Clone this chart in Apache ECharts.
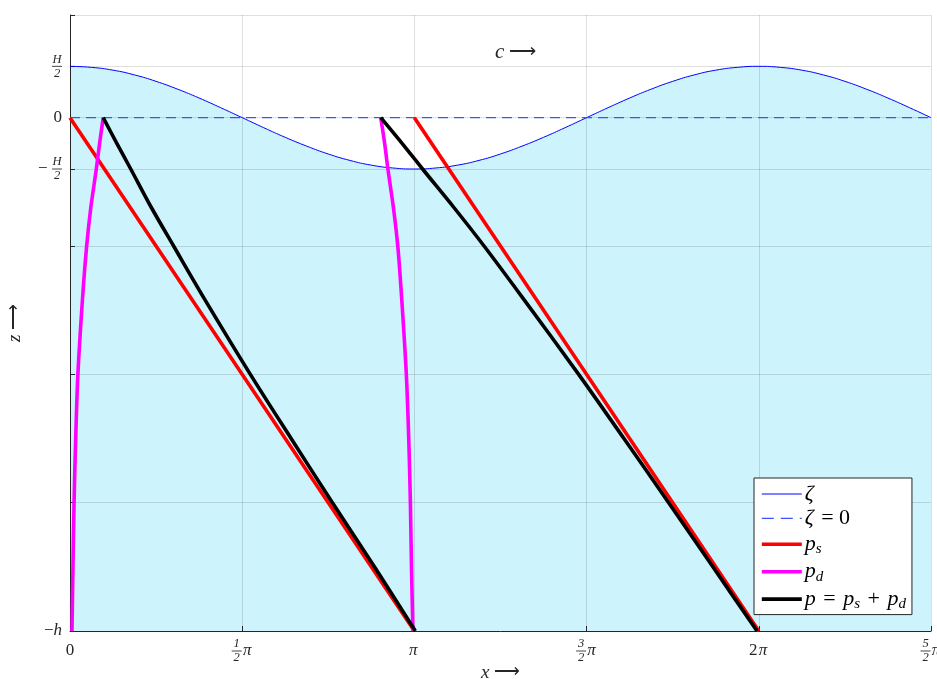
<!DOCTYPE html>
<html><head><meta charset="utf-8">
<script src="https://cdn.jsdelivr.net/npm/echarts@6/dist/echarts.min.js"></script>
<style>html,body{margin:0;padding:0;background:#fff}#c{width:937px;height:679px}</style>
</head><body><div id="c"></div>
<script>
const PI = Math.PI;
// axis ticks
const xTickValues = [0, PI / 2, PI, 3 * PI / 2, 2 * PI, 5 * PI / 2];
const xTickLabels = ['0', '1/2π', 'π', '3/2π', '2π', '5/2π'];
const yTickValues = [-4, -3, -2, -1, -0.4, 0, 0.4, 0.8];
const yTickLabels = ['−h', '', '', '', '−H/2', '0', 'H/2', ''];

// surface elevation ζ
const waveX = [0, 0.196, 0.393, 0.589, 0.785, 0.982, 1.178, 1.374, 1.571, 1.767, 1.963, 2.160, 2.356, 2.553, 2.749, 2.945, 3.142, 3.338, 3.534, 3.731, 3.927, 4.123, 4.320, 4.516, 4.712, 4.909, 5.105, 5.301, 5.498, 5.694, 5.890, 6.087, 6.283, 6.480, 6.676, 6.872, 7.069, 7.265, 7.461, 7.658, 7.854];
const waveZ = [0.4, 0.392, 0.370, 0.333, 0.283, 0.222, 0.153, 0.078, 0, -0.078, -0.153, -0.222, -0.283, -0.333, -0.370, -0.392, -0.4, -0.392, -0.370, -0.333, -0.283, -0.222, -0.153, -0.078, 0, 0.078, 0.153, 0.222, 0.283, 0.333, 0.370, 0.392, 0.4, 0.392, 0.370, 0.333, 0.283, 0.222, 0.153, 0.078, 0];

// still water level
const levelX = [0, 7.854];
const levelZ = [0, 0];

// hydrostatic pressure p_s
const ps1X = [0, 3.1416];
const ps1Z = [0, -4];
const ps2X = [3.1416, 6.2832];
const ps2Z = [0, -4];

// dynamic pressure p_d
const profZ = [0, -0.2, -0.4, -0.7, -1.0, -1.4, -2.0, -2.5, -3.0, -3.5, -4.0];
const pd1X = [0.303, 0.27, 0.24, 0.19, 0.152, 0.115, 0.072, 0.052, 0.037, 0.027, 0.018];
const pd2X = [2.835, 2.87, 2.90, 2.95, 2.99, 3.025, 3.068, 3.09, 3.105, 3.115, 3.128];

// total pressure p
const p1X = [0.303, 0.427, 0.554, 0.742, 0.945, 1.218, 1.645, 2.017, 2.394, 2.777, 3.150];
const p2X = [2.835, 3.029, 3.216, 3.502, 3.777, 4.126, 4.640, 5.053, 5.461, 5.864, 6.267];

const zip = (xs, zs) => xs.map((x, i) => [x, zs[i]]);

const SERIF = 'Liberation Serif';
const TXT = '#262626';

function xLabel(s) {
  const m = s.match(/^(\d)\/(\d)(.*)$/);
  if (!m) return s.replace(/π/, '{p|π}').replace(/^([^{]+)/, '{t|$1}');
  return '{n|' + m[1] + '}{sp| }\n{bar| }{p|' + m[3] + '}\n{n|' + m[2] + '}{sp| }';
}
function yLabel(s) {
  const m = s.match(/^(−?)(\w)\/(\d)$/);
  if (!m) {
    if (s.startsWith('−')) return '{t|−}{it|' + s.slice(1) + '}';
    return '{t|' + s + '}';
  }
  if (m[1]) return '{e| }{n|' + m[2] + '}\n{m|−}{bar| }\n{e| }{n|' + m[3] + '}';
  return '{n|' + m[2] + '}\n{bar| }\n{n|' + m[3] + '}';
}
const fracRich = {
  t: { fontFamily: SERIF, fontSize: 17, color: TXT },
  it: { fontFamily: SERIF, fontSize: 17, fontStyle: 'italic', color: TXT },
  n: { fontFamily: SERIF, fontSize: 12.5, fontStyle: 'italic', color: TXT, width: 10, align: 'center', lineHeight: 10 },
  bar: { fontSize: 1, width: 10, height: 1, lineHeight: 4, backgroundColor: '#444' },
  sp: { fontSize: 1, width: 11, lineHeight: 10 },
  p: { fontFamily: SERIF, fontSize: 17, fontStyle: 'italic', color: TXT, width: 11, align: 'left', lineHeight: 4 },
  e: { fontSize: 1, width: 14, lineHeight: 10 },
  m: { fontFamily: SERIF, fontSize: 17, color: TXT, width: 14, align: 'left', lineHeight: 4 }
};

const legendRich = {
  i: { fontFamily: SERIF, fontSize: 22, fontStyle: 'italic', color: '#000', lineHeight: 24 },
  r: { fontFamily: SERIF, fontSize: 22, color: '#000', lineHeight: 24, padding: [0, 2, 0, 2] },
  s: { fontFamily: SERIF, fontSize: 15, fontStyle: 'italic', color: '#000', lineHeight: 14, padding: [10, 0, 0, 0] }
};
const legendText = {
  'ζ': '{i|ζ}',
  'ζ = 0': '{i|ζ}{r| = 0}',
  'p_s': '{i|p}{s|s}',
  'p_d': '{i|p}{s|d}',
  'p = p_s + p_d': '{i|p}{r| = }{i|p}{s|s}{r| + }{i|p}{s|d}'
};

const gridLine = { show: true, lineStyle: { color: 'rgba(38,38,38,0.15)', width: 1 } };

const thick = (name, color, data) => ({
  name, type: 'line', data, smooth: 0.3, showSymbol: false, symbol: 'none', z: 5,
  lineStyle: { color, width: 3.6 }, itemStyle: { color }
});

const legendItem = (name, width, type) => ({
  name, lineStyle: { width, type }, itemStyle: { opacity: 0 }
});

const chart = echarts.init(document.getElementById('c'), null, { renderer: 'canvas' });
chart.setOption({
  animation: false,
  backgroundColor: '#fff',
  grid: { left: 70, right: 6, top: 15, bottom: 48, containLabel: false, outerBoundsMode: 'none' },
  xAxis: {
    type: 'value', min: 0, max: 5 * PI / 2, z: 3,
    axisLine: { show: true, onZero: false, lineStyle: { color: TXT, width: 1 } },
    axisTick: { show: true, inside: true, length: 5, customValues: xTickValues, lineStyle: { color: TXT } },
    axisLabel: {
      customValues: xTickValues, margin: 20, verticalAlign: 'middle', rich: fracRich,
      formatter: v => xLabel(xTickLabels[Math.round(v / (PI / 2))])
    },
    splitLine: gridLine,
    name: '{i|x} ⟶', nameLocation: 'middle', nameGap: 32, nameMoveOverlap: false,
    nameTextStyle: { color: TXT, fontSize: 18, fontFamily: SERIF, rich: { i: { fontFamily: SERIF, fontSize: 19, fontStyle: 'italic', color: TXT } } }
  },
  yAxis: {
    type: 'value', min: -4, max: 0.8, z: 3,
    axisLine: { show: true, onZero: false, lineStyle: { color: TXT, width: 1 } },
    axisTick: { show: true, inside: true, length: 5, customValues: yTickValues, lineStyle: { color: TXT } },
    axisLabel: {
      customValues: yTickValues, margin: 8, rich: fracRich,
      formatter: v => {
        const i = yTickValues.findIndex(t => Math.abs(t - v) < 1e-6);
        return i < 0 || !yTickLabels[i] ? '' : yLabel(yTickLabels[i]);
      }
    },
    splitLine: gridLine,
    name: '{i|z} ⟶', nameLocation: 'middle', nameGap: 46, nameRotate: 90, nameMoveOverlap: false,
    nameTextStyle: { color: TXT, fontSize: 18, fontFamily: SERIF, rich: { i: { fontFamily: SERIF, fontSize: 19, fontStyle: 'italic', color: TXT } } }
  },
  legend: {
    left: 754, top: 478, orient: 'vertical', z: 20,
    backgroundColor: '#fff', borderColor: '#262626', borderWidth: 1, borderRadius: 0,
    padding: [5, 6, 3, 6], itemGap: 2.4, itemWidth: 40, itemHeight: 14,
    data: [
      legendItem('ζ', 1, 'solid'),
      legendItem('ζ = 0', 1.3, [12, 7]),
      legendItem('p_s', 3.6, 'solid'),
      legendItem('p_d', 3.6, 'solid'),
      legendItem('p = p_s + p_d', 3.6, 'solid')
    ],
    formatter: n => legendText[n],
    textStyle: { rich: legendRich, padding: [0, 0, 0, -2] }
  },
  graphic: [{
    type: 'text', left: 495, top: 42, z: 10,
    style: { text: '{i|c} ⟶', fill: TXT, fontSize: 19, fontFamily: SERIF,
      rich: { i: { fontFamily: SERIF, fontSize: 21, fontStyle: 'italic', fill: TXT } } }
  }],
  series: [
    { name: 'fill', type: 'line', data: zip(waveX, waveZ), smooth: true, showSymbol: false, symbol: 'none', z: 1, silent: true,
      lineStyle: { width: 0 }, areaStyle: { color: '#cdf3fc', opacity: 1, origin: 'start' } },
    { name: 'ζ', type: 'line', data: zip(waveX, waveZ), smooth: true, showSymbol: false, symbol: 'none', z: 4,
      lineStyle: { color: '#0000ff', width: 1 }, itemStyle: { color: '#0000ff' } },
    { name: 'ζ = 0', type: 'line', data: zip(levelX, levelZ), showSymbol: false, symbol: 'none', z: 4,
      lineStyle: { color: '#3a55ff', width: 1.4, type: [10, 6] }, itemStyle: { color: '#3a55ff' } },
    thick('p_s', '#ff0000', zip(ps1X, ps1Z)),
    thick('p_s', '#ff0000', zip(ps2X, ps2Z)),
    thick('p_d', '#ff00ff', zip(pd1X, profZ)),
    thick('p_d', '#ff00ff', zip(pd2X, profZ)),
    thick('p = p_s + p_d', '#000000', zip(p1X, profZ)),
    thick('p = p_s + p_d', '#000000', zip(p2X, profZ))
  ]
});
</script>
</body></html>
